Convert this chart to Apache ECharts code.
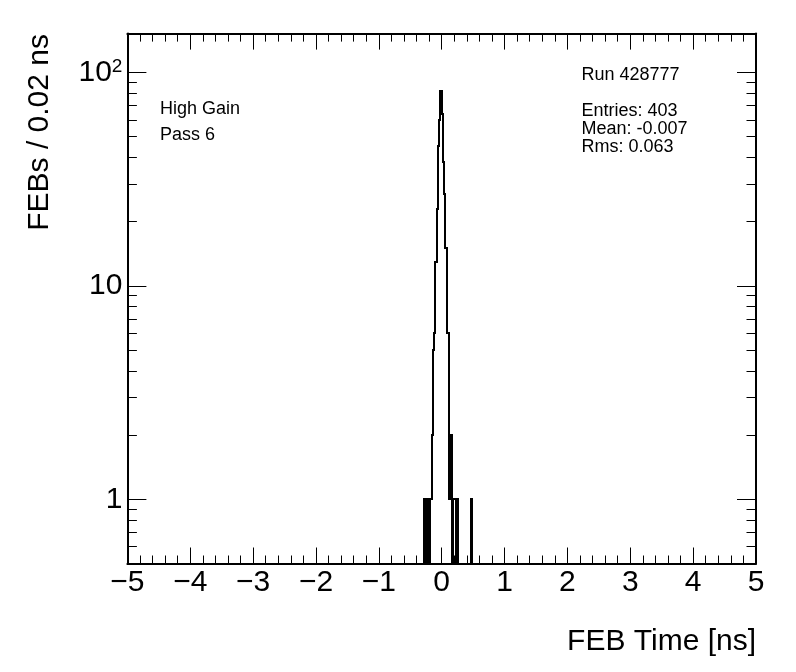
<!DOCTYPE html>
<html>
<head>
<meta charset="utf-8">
<script src="https://cdn.jsdelivr.net/npm/echarts@6/dist/echarts.min.js"></script>
<style>html,body{margin:0;padding:0;background:#fff}#c{width:796px;height:672px}</style>
</head>
<body>
<div id="c"></div>
<script>
// ---- data ----
const xMin = -5, xMax = 5, xStep = 1;
const yMin = 0.5, yMax = 152;
const binWidth = 0.02;
const firstBinLow = -0.28;            // low edge of first listed bin
const binCounts = [1,0,1,1,0,1,2,5,6,13,23,45,60,82,
                   64,38,27,15,6,6,1,2,0,1,1,0,1,
                   0,0,0,0,0,0,0,0,0,0,1];
const yMajorTicks = [1, 10, 100];
const yMinorTicks = [0.6,0.7,0.8,0.9,2,3,4,5,6,7,8,9,20,30,40,50,60,70,80,90];
const xTitle = 'FEB Time [ns]';
const yTitle = 'FEBs / 0.02 ns';
const leftLabels = ['High Gain', 'Pass 6'];
const statLabels = ['Run 428777', 'Entries: 403', 'Mean: -0.007', 'Rms: 0.063'];

const FONT = '"Liberation Sans", Arial, Helvetica, sans-serif';
const fmtX = v => (v < 0 ? '\u2212' + (-v) : String(v));
const fmtY = v => (Math.abs(v - 100) < 1e-6 ? '{n|10}{s|2}' : String(Math.round(v)));

function xAxisDef(pos, showLabel) {
  return {
    type: 'value', position: pos, min: xMin, max: xMax, interval: xStep,
    axisLine: { show: true, onZero: false, lineStyle: { color: '#000', width: 2 } },
    axisTick: { show: true, inside: true, length: 16, lineStyle: { color: '#000', width: 1 } },
    minorTick: { show: true, splitNumber: 5, length: 8, lineStyle: { color: '#000', width: 1 } },
    axisLabel: { show: showLabel, color: '#000', fontSize: 30, fontFamily: FONT, margin: 4, formatter: fmtX },
    splitLine: { show: false }, minorSplitLine: { show: false }
  };
}
function yAxisDef(pos, major, showLabel) {
  return {
    type: 'log', logBase: 10, position: pos, min: yMin, max: yMax,
    axisLine: { show: major, onZero: false, lineStyle: { color: '#000', width: 2 } },
    axisTick: { show: true, inside: true, length: major ? 19 : 9.5,
                customValues: major ? yMajorTicks : yMinorTicks,
                lineStyle: { color: '#000', width: 1 } },
    axisLabel: { show: showLabel, customValues: yMajorTicks, color: '#000', fontSize: 30,
                 fontFamily: FONT, margin: 5, formatter: fmtY,
                 rich: { n: { fontSize: 30, fontFamily: FONT, color: '#000' },
                         s: { fontSize: 19, fontFamily: FONT, color: '#000', verticalAlign: 'top', padding: [0, 0, 12, 0] } } },
    splitLine: { show: false }
  };
}

// histogram outline through the axis scales, snapped to device pixels
function renderHist(params, api) {
  const P = (x, y) => {
    const c = api.coord([x, y]);
    return [Math.round(c[0]), Math.round(c[1])];
  };
  const pts = [];
  let prev = yMin;
  binCounts.forEach((c, i) => {
    const lo = firstBinLow + i * binWidth, hi = lo + binWidth;
    const v = c > 0 ? c : yMin;
    pts.push(P(lo, prev));
    pts.push(P(lo, v));
    pts.push(P(hi, v));
    prev = v;
  });
  pts.push(P(firstBinLow + binCounts.length * binWidth, yMin));
  return {
    type: 'polyline', shape: { points: pts },
    style: { stroke: '#000', lineWidth: 2, fill: null, lineJoin: 'miter' }
  };
}

const chart = echarts.init(document.getElementById('c'), null, { renderer: 'canvas' });
const txt = (t, x, y, size, align) => ({
  type: 'text', x: x, y: y, silent: true,
  style: { text: t, fill: '#000', fontSize: size, fontFamily: FONT,
           align: align || 'left', verticalAlign: 'middle',
           textAlign: align || 'left', textVerticalAlign: 'middle' }
});
chart.setOption({
  animation: false,
  backgroundColor: '#fff',
  grid: { left: 127.4, right: 40, top: 33.6, bottom: 108.5, containLabel: false },
  xAxis: [xAxisDef('bottom', true), xAxisDef('top', false)],
  yAxis: [yAxisDef('left', true, true), yAxisDef('left', false, false),
          yAxisDef('right', true, false), yAxisDef('right', false, false)],
  series: [{
    type: 'custom', xAxisIndex: 0, yAxisIndex: 0, data: [[0, 1]],
    renderItem: renderHist, clip: true, z: 5, silent: true
  }],
  graphic: [
    txt(leftLabels[0], 160, 108.8, 18),
    txt(leftLabels[1], 160, 135.1, 18),
    txt(statLabels[0], 581.5, 75.5, 18),
    txt(statLabels[1], 581.5, 111.5, 18),
    txt(statLabels[2], 581.5, 129.5, 18),
    txt(statLabels[3], 581.5, 147.5, 18),
    txt(xTitle, 756, 641.3, 30, 'right'),
    Object.assign(txt(yTitle, 39.6, 34, 30, 'right'), { rotation: Math.PI / 2 })
  ]
});
</script>
</body>
</html>
